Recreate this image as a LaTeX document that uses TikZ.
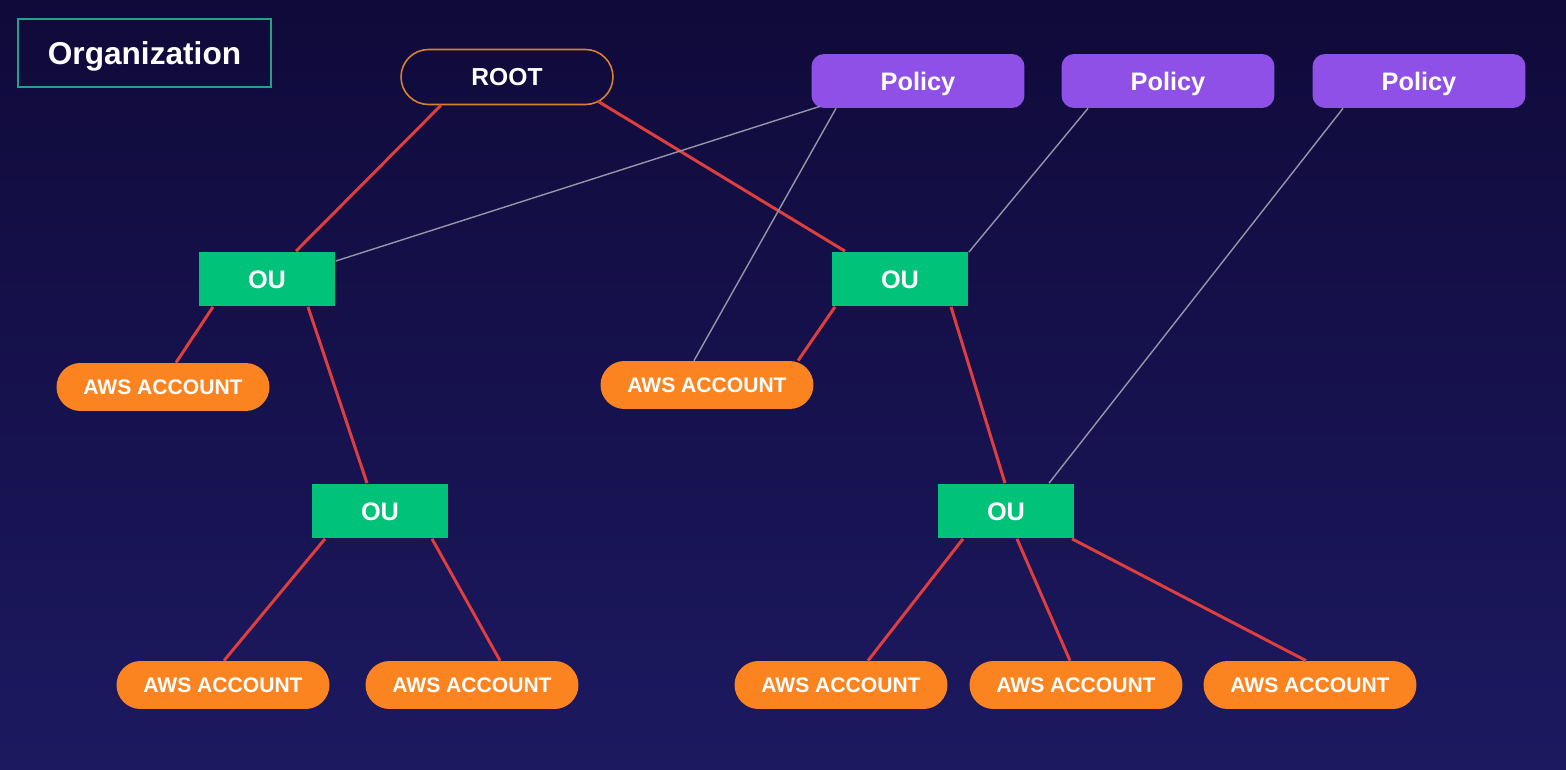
\documentclass[tikz,border=0pt]{standalone}
\usepackage{fontspec}
\setmainfont{Liberation Sans}
\usetikzlibrary{calc}
\definecolor{bgtop}{RGB}{16,10,58}
\definecolor{bgbot}{RGB}{28,25,96}
\definecolor{orgline}{RGB}{38,160,135}
\definecolor{rootline}{RGB}{214,130,50}
\definecolor{policyfill}{RGB}{142,80,230}
\definecolor{oufill}{RGB}{0,194,120}
\definecolor{accfill}{RGB}{252,132,32}
\definecolor{treeline}{RGB}{222,62,62}
\definecolor{polline}{RGB}{150,150,168}
\tikzset{
 orgbox/.style={draw=orgline,line width=1.2pt,inner sep=0pt,minimum width=5.06cm,minimum height=1.36cm,text=white,text height=12.9pt,text depth=0pt,font=\bfseries\fontsize{18}{20}\selectfont},
 rootbox/.style={draw=rootline,line width=0.9pt,rounded corners=0.55cm,inner sep=0pt,minimum width=4.24cm,minimum height=1.1cm,text=white,text height=10pt,text depth=0pt,font=\bfseries\fontsize{14}{16}\selectfont},
 policybox/.style={fill=policyfill,rounded corners=0.25cm,inner sep=0pt,minimum width=4.26cm,minimum height=1.08cm,text=white,text height=10.3pt,text depth=0pt,font=\bfseries\fontsize{14.4}{16}\selectfont},
 oubox/.style={fill=oufill,inner sep=0pt,minimum width=2.74cm,minimum height=1.1cm,text=white,text height=10.3pt,text depth=0pt,font=\bfseries\fontsize{14.4}{16}\selectfont},
 accbox/.style={fill=accfill,rounded corners=0.48cm,inner sep=0pt,minimum width=4.26cm,minimum height=0.96cm,text=white,text height=8.6pt,text depth=0pt,font=\bfseries\fontsize{12}{14}\selectfont},
 tree/.style={treeline,line width=1.7pt},
 pol/.style={polline,line width=0.8pt}
}
\begin{document}
\begin{tikzpicture}[x=0.02cm,y=-0.02cm]
 \useasboundingbox (0,0) rectangle (1566,770);
 \shade[top color=bgtop,bottom color=bgbot] (0,0) rectangle (1566,770); %背景
 \node[orgbox] (org) at (144.5,53) {Organization};
 \node[rootbox] (root) at (507,77) {ROOT};
 \node[policybox] (pol1) at (918,81) {Policy};
 \node[policybox] (pol2) at (1168,81) {Policy};
 \node[policybox] (pol3) at (1419,81) {Policy};
 \node[oubox] (ou1) at (267,279) {OU}; %左のOU
 \node[oubox] (ou2) at (900,279) {OU}; %右のOU
 \node[oubox] (ou3) at (380,511) {OU};
 \node[oubox] (ou4) at (1006,511) {OU};
 \node[accbox] (acc1) at (163,387) {AWS ACCOUNT};
 \node[accbox] (acc2) at (707,385) {AWS ACCOUNT};
 \node[accbox] (acc3) at (223,685) {AWS ACCOUNT};
 \node[accbox] (acc4) at (472,685) {AWS ACCOUNT};
 \node[accbox] (acc5) at (841,685) {AWS ACCOUNT};
 \node[accbox] (acc6) at (1076,685) {AWS ACCOUNT};
 \node[accbox] (acc7) at (1310,685) {AWS ACCOUNT};
 % 木の線
 \draw[tree] ($(root.south)+(-66,0)$)--($(ou1.north)+(29,0)$);
 \draw[tree] ($(root.south)+(91,-4)$)--($(ou2.north)+(-55,0)$);
 \draw[tree] ($(ou1.south)+(-54,0)$)--($(acc1.north)+(13,0)$);
 \draw[tree] ($(ou1.south)+(41,0)$)--($(ou3.north)+(-13,0)$);
 \draw[tree] ($(ou3.south)+(-55,0)$)--($(acc3.north)+(1,0)$);
 \draw[tree] ($(ou3.south)+(52,0)$)--($(acc4.north)+(28,0)$);
 \draw[tree] ($(ou2.south)+(-65,0)$)--($(acc2.north)+(91,0)$);
 \draw[tree] ($(ou2.south)+(51,0)$)--($(ou4.north)+(-1,0)$);
 \draw[tree] ($(ou4.south)+(-43,0)$)--($(acc5.north)+(27,0)$);
 \draw[tree] ($(ou4.south)+(11,0)$)--($(acc6.north)+(-6,0)$);
 \draw[tree] ($(ou4.south)+(66,0)$)--($(acc7.north)+(-4,0)$);
 % ポリシーの線
 \draw[pol] ($(pol1.south)+(-98,-2)$)--($(ou1.east)+(0,-18)$);
 \draw[pol] ($(pol1.south)+(-82,0)$)--($(acc2.north)+(-13,0)$);
 \draw[pol] ($(pol2.south)+(-80,0)$)--($(ou2.north east)+(0,1)$);
 \draw[pol] ($(pol3.south)+(-76,0)$)--($(ou4.north)+(43,0)$);
\end{tikzpicture}
\end{document}
